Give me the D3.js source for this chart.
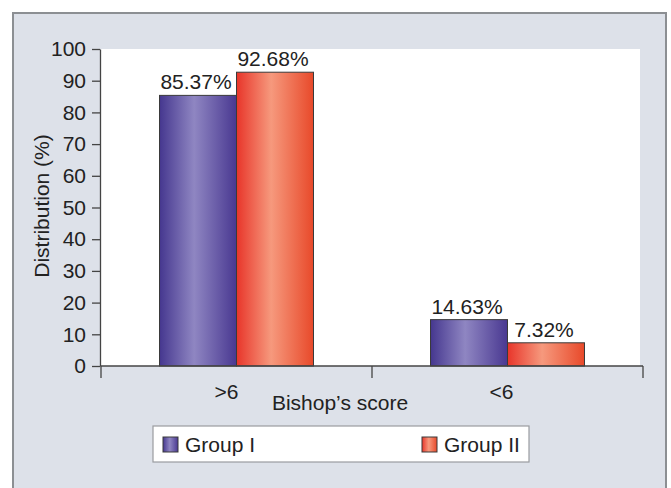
<!DOCTYPE html>
<html>
<head>
<meta charset="utf-8">
<script src="https://cdn.jsdelivr.net/npm/d3@7"></script>
<style>
  html, body { margin: 0; padding: 0; background: #ffffff; }
  svg { display: block; }
  text { font-family: "Liberation Sans", Arial, sans-serif; fill: #222; }
</style>
</head>
<body>
<svg id="chart" width="671" height="488"></svg>
<script>
const categories = [">6", "<6"];
const groups = ["Group I", "Group II"];
const groupI = [85.37, 14.63];
const groupII = [92.68, 7.32];
const yTicks = [0, 10, 20, 30, 40, 50, 60, 70, 80, 90, 100];
const xAxisTitle = "Bishop’s score";
const yAxisTitle = "Distribution (%)";

(function () {
const FS = 21;
const data = categories.map((c, i) => ({ cat: c, values: [groupI[i], groupII[i]] }));

const svg = d3.select("#chart");
const defs = svg.append("defs");

function grad(id, stops) {
  const g = defs.append("linearGradient").attr("id", id)
    .attr("x1", "0%").attr("x2", "100%").attr("y1", "0%").attr("y2", "0%");
  stops.forEach(s => g.append("stop").attr("offset", s[0]).attr("stop-color", s[1]));
}
grad("gPurple", [["0%", "#45378f"], ["45%", "#8f86c2"], ["100%", "#493891"]]);
grad("gRed", [["0%", "#e8352a"], ["45%", "#f6997d"], ["100%", "#e8492a"]]);
const fills = ["url(#gPurple)", "url(#gRed)"];

// outer panel
svg.append("rect").attr("x", 13).attr("y", 13).attr("width", 653).attr("height", 500)
  .attr("fill", "#dde1e9").attr("stroke", "#8c8f93").attr("stroke-width", 2);

const pLeft = 101, pRight = 643, pTop = 49, pBottom = 366;

const x0 = d3.scaleBand().domain(categories).range([pLeft, pRight]).paddingInner(0).paddingOuter(0);
const x1 = d3.scaleBand().domain(groups).range([0, x0.bandwidth()]).paddingInner(0).paddingOuter(0.76);
const y = d3.scaleLinear().domain([0, 100]).range([pBottom, pTop]);

// plot area
svg.append("rect").attr("x", pLeft).attr("y", y(100)).attr("width", 640 - pLeft).attr("height", y(0) - y(100))
  .attr("fill", "#ffffff");

// bars
const cg = svg.append("g").selectAll("g").data(data).join("g")
  .attr("transform", d => `translate(${x0(d.cat)},0)`);
cg.selectAll("rect").data(d => d.values.map((v, i) => ({ v, i }))).join("rect")
  .attr("x", d => x1(groups[d.i]))
  .attr("y", d => y(d.v))
  .attr("width", x1.bandwidth())
  .attr("height", d => y(0) - y(d.v))
  .attr("fill", d => fills[d.i])
  .attr("stroke", "#3a3a3a").attr("stroke-width", 1);
cg.selectAll("text.val").data(d => d.values.map((v, i) => ({ v, i }))).join("text")
  .attr("class", "val")
  .attr("x", d => x1(groups[d.i]) + x1.bandwidth() / 2 - 2)
  .attr("y", d => y(d.v) - 6)
  .attr("text-anchor", "middle")
  .attr("font-size", FS)
  .text(d => d.v.toFixed(2) + "%");

// y axis
const yAxis = d3.axisLeft(y).tickValues(yTicks).tickSize(8).tickPadding(6).tickSizeOuter(0);
const ya = svg.append("g").attr("transform", `translate(${pLeft - 1},0)`).call(yAxis);
ya.selectAll("path, line").attr("stroke", "#444").attr("stroke-width", 1.3);
ya.selectAll("text").attr("font-size", FS).attr("fill", "#222")
  .style("font-family", '"Liberation Sans", Arial, sans-serif');

// x axis
const xa = svg.append("g");
xa.append("line").attr("x1", pLeft).attr("x2", pRight).attr("y1", y(0)).attr("y2", y(0))
  .attr("stroke", "#444").attr("stroke-width", 1.3);
const bounds = categories.map(c => x0(c)).concat([x0(categories[categories.length - 1]) + x0.bandwidth()]);
xa.selectAll("line.tk").data(bounds).join("line").attr("class", "tk")
  .attr("x1", d => d).attr("x2", d => d).attr("y1", y(0)).attr("y2", y(0) + 12)
  .attr("stroke", "#444").attr("stroke-width", 1.3);
xa.selectAll("text").data(categories).join("text")
  .attr("x", (d, i) => x0(d) + x0.bandwidth() / 2 - (i === 0 ? 10 : 6))
  .attr("y", 399)
  .attr("text-anchor", "middle").attr("font-size", FS)
  .text(d => d);

svg.append("text").attr("x", 340).attr("y", 410).attr("text-anchor", "middle")
  .attr("font-size", FS).text(xAxisTitle);

svg.append("text").attr("transform", "translate(49,206) rotate(-90)")
  .attr("text-anchor", "middle").attr("font-size", FS).text(yAxisTitle);

// legend
const lg = svg.append("g");
lg.append("rect").attr("x", 153).attr("y", 426).attr("width", 376).attr("height", 36)
  .attr("fill", "#ffffff").attr("stroke", "#9a9ca0").attr("stroke-width", 1.2);
const legPos = [163, 422];
groups.forEach((g, i) => {
  lg.append("rect").attr("x", legPos[i]).attr("y", 437).attr("width", 15).attr("height", 15)
    .attr("fill", fills[i]).attr("stroke", "#3a3a3a").attr("stroke-width", 1);
  lg.append("text").attr("x", legPos[i] + 22).attr("y", 452).attr("font-size", FS).text(g);
});
})();
</script>
</body>
</html>
